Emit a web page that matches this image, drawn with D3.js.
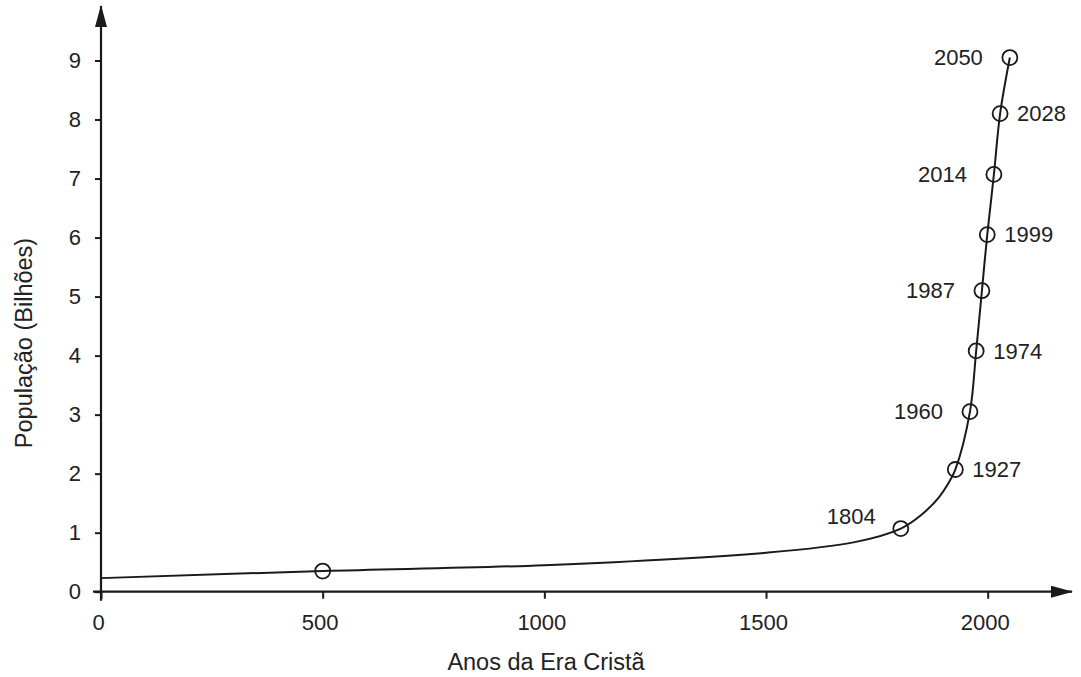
<!DOCTYPE html>
<html>
<head>
<meta charset="utf-8">
<script src="https://cdn.jsdelivr.net/npm/d3@7"></script>
<style>
  html, body { margin: 0; padding: 0; background: #fff; }
  svg { display: block; font-family: "Liberation Sans", Arial, Helvetica, sans-serif; }
</style>
</head>
<body>
<svg id="chart" width="1081" height="677"></svg>
<script>
// ---- data ----
const markerYears  = [500, 1804, 1927, 1960, 1974, 1987, 1999, 2014, 2028, 2050];
const markerValues = [0.35, 1.07, 2.07, 3.05, 4.08, 5.1, 6.05, 7.07, 8.1, 9.05];
const markerLabels = ["", "1804", "1927", "1960", "1974", "1987", "1999", "2014", "2028", "2050"];
// curve path (year, population in billions)
const curveYears  = [0, 500, 1000, 1500, 1700, 1804, 1850, 1890, 1910, 1927, 1960, 1974, 1987, 1999, 2014, 2028, 2050];
const curveValues = [0.23, 0.35, 0.45, 0.66, 0.84, 1.07, 1.3, 1.6, 1.82, 2.07, 3.05, 4.08, 5.1, 6.05, 7.07, 8.1, 9.05];
const xTicks = [0, 500, 1000, 1500, 2000];
const yTicks = [0, 1, 2, 3, 4, 5, 6, 7, 8, 9];
const xTitle = "Anos da Era Cristã";
const yTitle = "População (Bilhões)";
// which side each marker label is placed on
const labelSide = ["none", "left", "right", "left", "right", "left", "right", "left", "right", "left"];

// ---- layout ----
const svg = d3.select("#chart");
const x = d3.scaleLinear().domain([0, 2000]).range([101, 987.7]);
const y = d3.scaleLinear().domain([0, 9]).range([591.7, 60.5]);
const ink = "#1a1a1a";
const textInk = "#222";
const fontSize = 22;

// arrow marker
const defs = svg.append("defs");
defs.append("marker")
  .attr("id", "arrow")
  .attr("viewBox", "0 0 22 12")
  .attr("refX", 21).attr("refY", 6)
  .attr("markerWidth", 22).attr("markerHeight", 12)
  .attr("markerUnits", "userSpaceOnUse")
  .attr("orient", "auto")
  .append("path").attr("d", "M0,0 L22,6 L0,12 Z").attr("fill", ink);

// y axis ticks & labels
const yAxis = svg.append("g")
  .attr("transform", `translate(${x(0)},0)`)
  .call(d3.axisLeft(y).tickValues(yTicks).tickSize(6).tickPadding(14).tickFormat(d3.format("d")));
yAxis.select(".domain").remove();
yAxis.selectAll("line").attr("stroke", ink).attr("stroke-width", 2);
yAxis.selectAll("text").attr("font-size", fontSize).attr("fill", textInk)
  .attr("font-family", "'Liberation Sans', Arial, sans-serif");

// x axis ticks & labels
const xAxis = svg.append("g")
  .attr("transform", `translate(0,${y(0)})`)
  .call(d3.axisBottom(x).tickValues(xTicks).tickSize(7).tickPadding(16).tickFormat(d3.format("d")));
xAxis.select(".domain").remove();
xAxis.selectAll("line").attr("stroke", ink).attr("stroke-width", 2);
xAxis.selectAll("text").attr("font-size", fontSize).attr("fill", textInk).attr("dx", -3)
  .attr("font-family", "'Liberation Sans', Arial, sans-serif");

// axis lines with arrows
svg.append("line")
  .attr("x1", x(0)).attr("x2", x(0))
  .attr("y1", y(0) + 9).attr("y2", 6)
  .attr("stroke", ink).attr("stroke-width", 2.2)
  .attr("marker-end", "url(#arrow)");
svg.append("line")
  .attr("x1", x(0) - 8).attr("x2", 1072)
  .attr("y1", y(0)).attr("y2", y(0))
  .attr("stroke", ink).attr("stroke-width", 2.2)
  .attr("marker-end", "url(#arrow)");

// curve
const curvePts = curveYears.map((yr, i) => [yr, curveValues[i]]);
const line = d3.line()
  .x(d => x(d[0])).y(d => y(d[1]))
  .curve(d3.curveCatmullRom.alpha(0.5));
svg.append("path")
  .datum(curvePts)
  .attr("d", line)
  .attr("fill", "none")
  .attr("stroke", ink)
  .attr("stroke-width", 2);

// markers
const pts = markerYears.map((yr, i) => ({ yr, v: markerValues[i], label: markerLabels[i], side: labelSide[i] }));
svg.append("g").selectAll("circle").data(pts).join("circle")
  .attr("cx", d => x(d.yr)).attr("cy", d => y(d.v))
  .attr("r", 7.5)
  .attr("fill", "none")
  .attr("stroke", ink)
  .attr("stroke-width", 1.8);

// marker labels
svg.append("g").selectAll("text").data(pts.filter(d => d.label)).join("text")
  .attr("x", d => x(d.yr) + (d.side === "left" ? (d.label === "1804" ? -25 : -27) : 17))
  .attr("y", d => y(d.v) + (d.label === "1804" ? -12 : 0))
  .attr("dy", "0.35em")
  .attr("text-anchor", d => d.side === "left" ? "end" : "start")
  .attr("font-size", fontSize)
  .attr("fill", textInk)
  .text(d => d.label);

// axis titles
svg.append("text")
  .attr("x", 546).attr("y", 670)
  .attr("text-anchor", "middle")
  .attr("font-size", 23.5)
  .attr("fill", textInk)
  .text(xTitle);
svg.append("text")
  .attr("transform", "translate(32,343) rotate(-90)")
  .attr("text-anchor", "middle")
  .attr("font-size", 23.5)
  .attr("fill", textInk)
  .text(yTitle);
</script>
</body>
</html>
